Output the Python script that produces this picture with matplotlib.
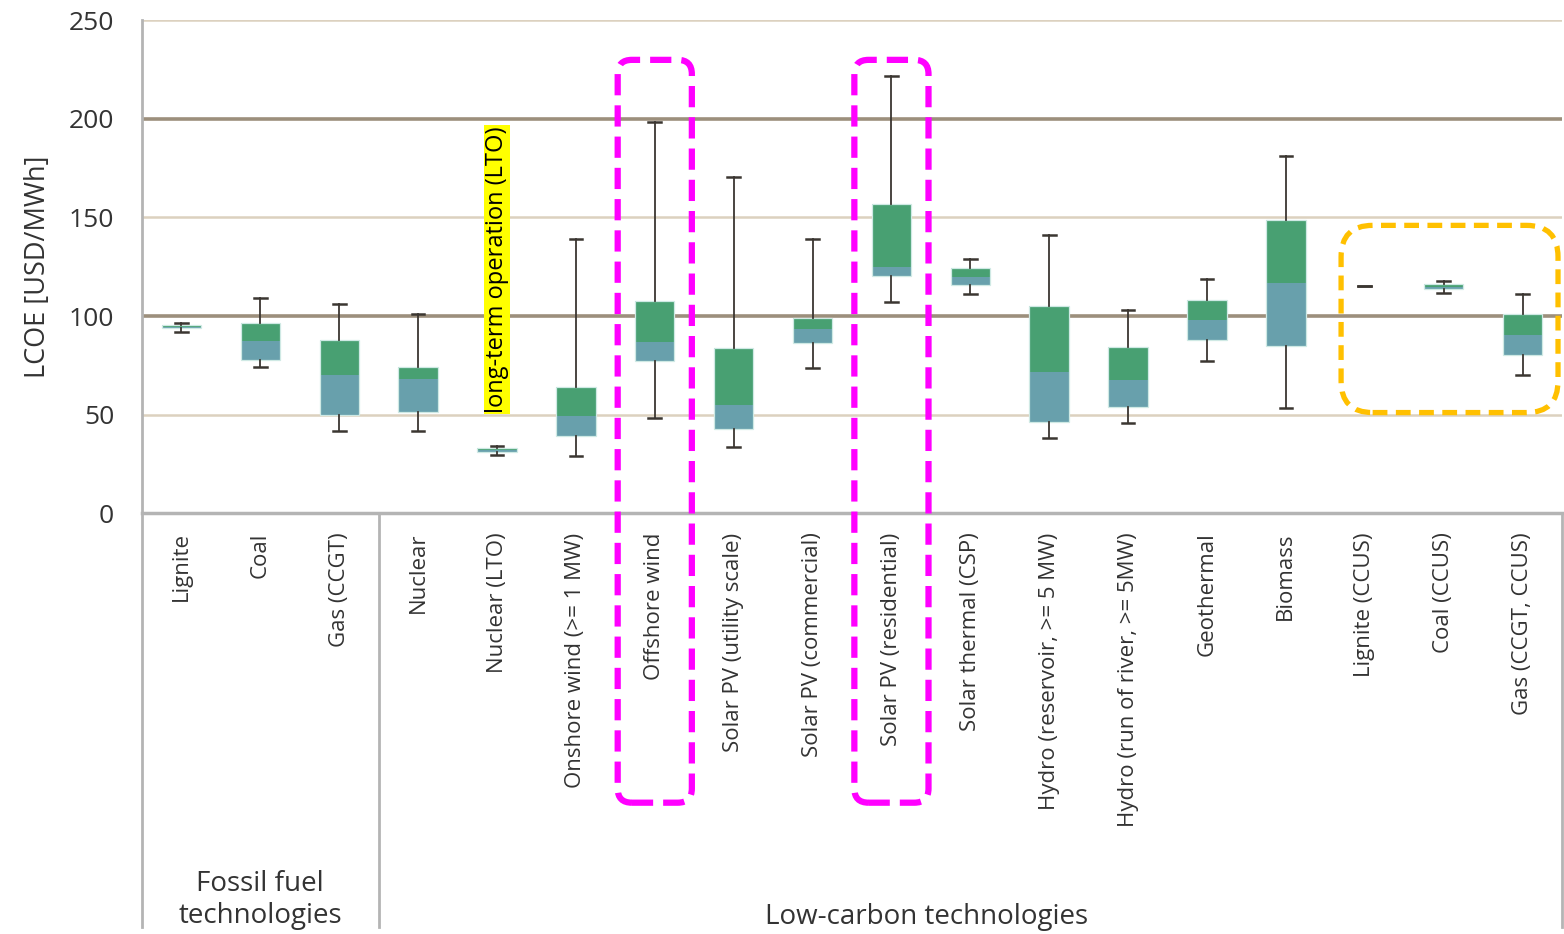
import numpy as np
import matplotlib.pyplot as plt
from matplotlib.patches import FancyBboxPatch, Rectangle
from matplotlib.lines import Line2D

plt.rcParams['font.family'] = ['Open Sans', 'DejaVu Sans']

# LCOE ranges per technology [USD/MWh]
technologies = ["Lignite", "Coal", "Gas (CCGT)", "Nuclear", "Nuclear (LTO)",
                "Onshore wind (>= 1 MW)", "Offshore wind", "Solar PV (utility scale)",
                "Solar PV (commercial)", "Solar PV (residential)", "Solar thermal (CSP)",
                "Hydro (reservoir, >= 5 MW)", "Hydro (run of river, >= 5MW)", "Geothermal",
                "Biomass", "Lignite (CCUS)", "Coal (CCUS)", "Gas (CCGT, CCUS)"]
lcoe_min = [92.0, 74.0, 41.5, 41.5, 29.4, 28.8, 48.0, 33.5, 73.5, 107.3,
            111.3, 38.2, 45.7, 77.2, 53.1, 115.4, 111.8, 69.9]
lcoe_q1 = [93.8, 77.7, 49.9, 51.4, 31.0, 39.2, 77.3, 42.6, 86.1, 120.5,
           115.7, 46.3, 53.8, 87.7, 84.9, 115.4, 113.6, 80.2]
lcoe_median = [94.6, 87.3, 70.2, 68.0, 31.9, 49.4, 86.6, 55.0, 93.2, 124.7,
               120.0, 71.4, 67.5, 98.0, 116.9, 115.4, 114.9, 90.5]
lcoe_q3 = [95.6, 96.6, 88.0, 74.3, 32.8, 63.8, 107.8, 83.6, 98.8, 156.7,
           124.4, 105.2, 84.3, 108.1, 148.7, 115.4, 116.1, 100.9]
lcoe_max = [96.5, 109.0, 105.9, 101.0, 34.2, 139.0, 198.6, 170.7, 139.2, 221.8,
            128.8, 141.3, 103.0, 118.9, 181.2, 115.4, 117.8, 111.3]

n_fossil = 3
yticks = [0, 50, 100, 150, 200, 250]

GREEN = "#48a072"
BLUE = "#68a0ac"
WHISKER = "#3b3631"
AXIS_GREY = "#b4b4b4"
TXT = "#333333"

fig = plt.figure(figsize=(15.64, 9.34), dpi=100)
ax = fig.add_axes([0.0908, 0.4507, 0.9079, 0.5274])

x = np.arange(len(technologies))
q1 = np.array(lcoe_q1)
med = np.array(lcoe_median)
q3 = np.array(lcoe_q3)

# grid lines: 100 and 200 heavier
for v in yticks[1:]:
    if v % 100 == 0:
        ax.axhline(v, color="#9c8f7c", lw=2.6, zorder=0)
    else:
        ax.axhline(v, color="#dcd1bf", lw=1.8, zorder=0)

w = 0.5
ax.bar(x, med - q1, bottom=q1, width=w, color=BLUE, edgecolor="none", zorder=2)
ax.bar(x, q3 - med, bottom=med, width=w, color=GREEN, edgecolor="none", zorder=2)
for xi, b, t in zip(x, q1, q3):
    if t > b:
        ax.add_patch(Rectangle((xi - w / 2, b), w, t - b, fill=False,
                               edgecolor="#cfe9e4", lw=0.9, zorder=2.5))

# whiskers
cap = 0.08
for xi, lo, b, t, hi in zip(x, lcoe_min, lcoe_q1, lcoe_q3, lcoe_max):
    if hi > t:
        ax.plot([xi, xi], [t, hi], color=WHISKER, lw=1.3, zorder=3)
    if lo < b:
        ax.plot([xi, xi], [lo, b], color=WHISKER, lw=1.3, zorder=3)
    ax.plot([xi - cap, xi + cap], [hi, hi], color=WHISKER, lw=1.8, zorder=3)
    ax.plot([xi - cap, xi + cap], [lo, lo], color=WHISKER, lw=1.8, zorder=3)

ax.set_xlim(-0.5, len(technologies) - 0.5)
ax.set_ylim(0, 250)
ax.set_yticks(yticks)
ax.set_yticklabels([str(v) for v in yticks], fontsize=19, color=TXT)
ax.set_xticks(x)
ax.set_xticklabels(technologies, rotation=90, va="top", ha="center", fontsize=16, color=TXT)
ax.tick_params(axis="both", length=0)
ax.tick_params(axis="y", pad=20)
ax.tick_params(axis="x", pad=14)
ax.set_ylabel("LCOE [USD/MWh]", fontsize=19.5, color=TXT, labelpad=12)

for s in ["top", "right"]:
    ax.spines[s].set_visible(False)
ax.spines["left"].set_color(AXIS_GREY)
ax.spines["left"].set_linewidth(2)
ax.spines["bottom"].set_color(AXIS_GREY)
ax.spines["bottom"].set_linewidth(2.5)

# group dividers running down through the label area
trans = ax.get_xaxis_transform()
for xv in [-0.5, n_fossil - 0.5, len(technologies) - 0.5]:
    ax.add_line(Line2D([xv, xv], [0, -0.84], transform=trans, color=AXIS_GREY,
                       lw=2, clip_on=False))

ax.text((n_fossil - 1) / 2, -0.785, "Fossil fuel\ntechnologies", transform=trans,
        ha="center", va="center", fontsize=20, color=TXT, linespacing=1.2)
ax.text(9.45, -0.82, "Low-carbon technologies",
        transform=trans, ha="center", va="center", fontsize=20, color=TXT)

# LTO note
ax.text(4, 51, "long-term operation (LTO)", rotation=90, ha="center", va="bottom",
        fontsize=17, color="black", zorder=4,
        bbox=dict(boxstyle="square,pad=0.05", facecolor="#ffff00", edgecolor="none"))

# highlighted technologies
for idx in [6, 9]:
    ax.add_patch(FancyBboxPatch((idx - 0.47, -147), 0.94, 377,
                                boxstyle="round,pad=0,rounding_size=0.18",
                                mutation_aspect=40, fill=False, edgecolor="#ff00ff",
                                lw=4.5, linestyle=(0, (3.4, 1.6)), clip_on=False, zorder=5))
ax.add_patch(FancyBboxPatch((14.7, 51), 2.75, 95,
                            boxstyle="round,pad=0,rounding_size=0.4",
                            mutation_aspect=40, fill=False, edgecolor="#ffc000",
                            lw=3.8, linestyle=(0, (2.8, 1.6)), clip_on=False, zorder=5))

fig.savefig("out.png", dpi=100)
